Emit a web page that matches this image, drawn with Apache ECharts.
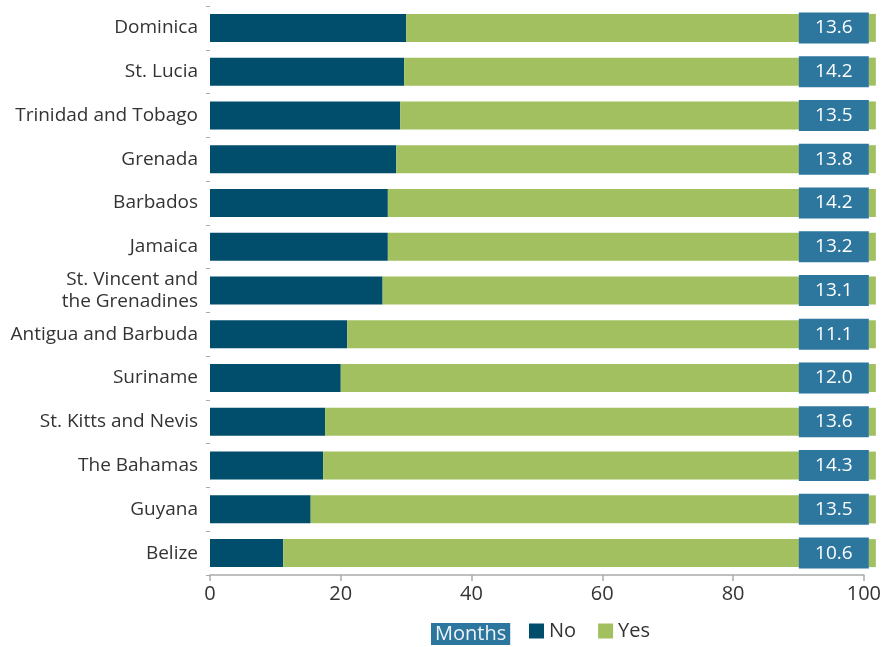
<!DOCTYPE html>
<html>
<head>
<meta charset="utf-8">
<script src="https://cdn.jsdelivr.net/npm/echarts@6/dist/echarts.min.js"></script>
<style>
  html, body { margin: 0; padding: 0; background: #fff; }
  #chart { width: 884px; height: 647px; }
</style>
</head>
<body>
<div id="chart"></div>
<script>
// Survey shares (percent) by country, with average months shown in the box
const categories = [
  'Dominica', 'St. Lucia', 'Trinidad and Tobago', 'Grenada', 'Barbados', 'Jamaica',
  'St. Vincent and\nthe Grenadines', 'Antigua and Barbuda', 'Suriname',
  'St. Kitts and Nevis', 'The Bahamas', 'Guyana', 'Belize'
];
const noShare  = [30.0, 29.7, 29.1, 28.5, 27.2, 27.2, 26.4, 21.0, 20.0, 17.6, 17.3, 15.4, 11.2];
const yesShare = [70.0, 70.3, 70.9, 71.5, 72.8, 72.8, 73.6, 79.0, 80.0, 82.4, 82.7, 84.6, 88.8];
const months   = [13.6, 14.2, 13.5, 13.8, 14.2, 13.2, 13.1, 11.1, 12.0, 13.6, 14.3, 13.5, 10.6];
const xTicks = { min: 0, max: 100, interval: 20 };

const FONT = '"Open Sans", sans-serif';
const C_NO = '#004e6b';
const C_YES = '#a3c060';
const C_BOX = '#2d769e';

const chart = echarts.init(document.getElementById('chart'), null, { renderer: 'canvas' });

chart.setOption({
  animation: false,
  textStyle: { fontFamily: FONT },
  grid: { left: 210, right: 20, top: 6, bottom: 72 },
  xAxis: {
    type: 'value',
    min: xTicks.min, max: xTicks.max, interval: xTicks.interval,
    axisLine: { show: true, lineStyle: { color: '#aaaaaa', width: 1.5 } },
    axisTick: { show: true, length: 6, lineStyle: { color: '#aaaaaa', width: 1.5 } },
    axisLabel: { color: '#333', fontSize: 20, margin: 9, fontFamily: FONT },
    splitLine: { show: false }
  },
  yAxis: {
    type: 'category',
    data: categories,
    inverse: true,
    axisLine: { show: false },
    axisTick: { show: true, length: 4, lineStyle: { color: '#aaaaaa' } },
    axisLabel: { color: '#333', fontSize: 19, margin: 12, lineHeight: 22, fontFamily: FONT }
  },
  legend: {
    left: 529, top: 621, padding: 0,
    itemWidth: 15, itemHeight: 15, itemGap: 22,
    icon: 'rect',
    textStyle: { color: '#333', fontSize: 20, fontFamily: FONT },
    data: ['No', 'Yes']
  },
  graphic: [{
    type: 'text',
    left: 431, top: 623,
    style: {
      text: 'Months',
      fill: '#eef4f8',
      font: '20px ' + FONT,
      backgroundColor: C_BOX,
      padding: [0, 4],
      lineHeight: 22
    }
  }],
  series: [
    {
      name: 'No', type: 'bar', stack: 'share',
      barWidth: 28,
      itemStyle: { color: C_NO },
      data: noShare
    },
    {
      name: 'Yes', type: 'bar', stack: 'share',
      barWidth: 28,
      itemStyle: { color: C_YES },
      data: yesShare,
      label: {
        show: true,
        position: 'insideRight',
        distance: 0,
        offset: [12, 0],
        formatter: p => '{m|' + months[p.dataIndex].toFixed(1) + '}{g| }',
        rich: {
          m: {
            width: 70, height: 31, lineHeight: 31, align: 'center',
            backgroundColor: C_BOX, color: '#ffffff', fontSize: 19, fontFamily: FONT
          },
          g: { width: 7, height: 28, backgroundColor: C_YES }
        }
      }
    }
  ]
});
</script>
</body>
</html>
